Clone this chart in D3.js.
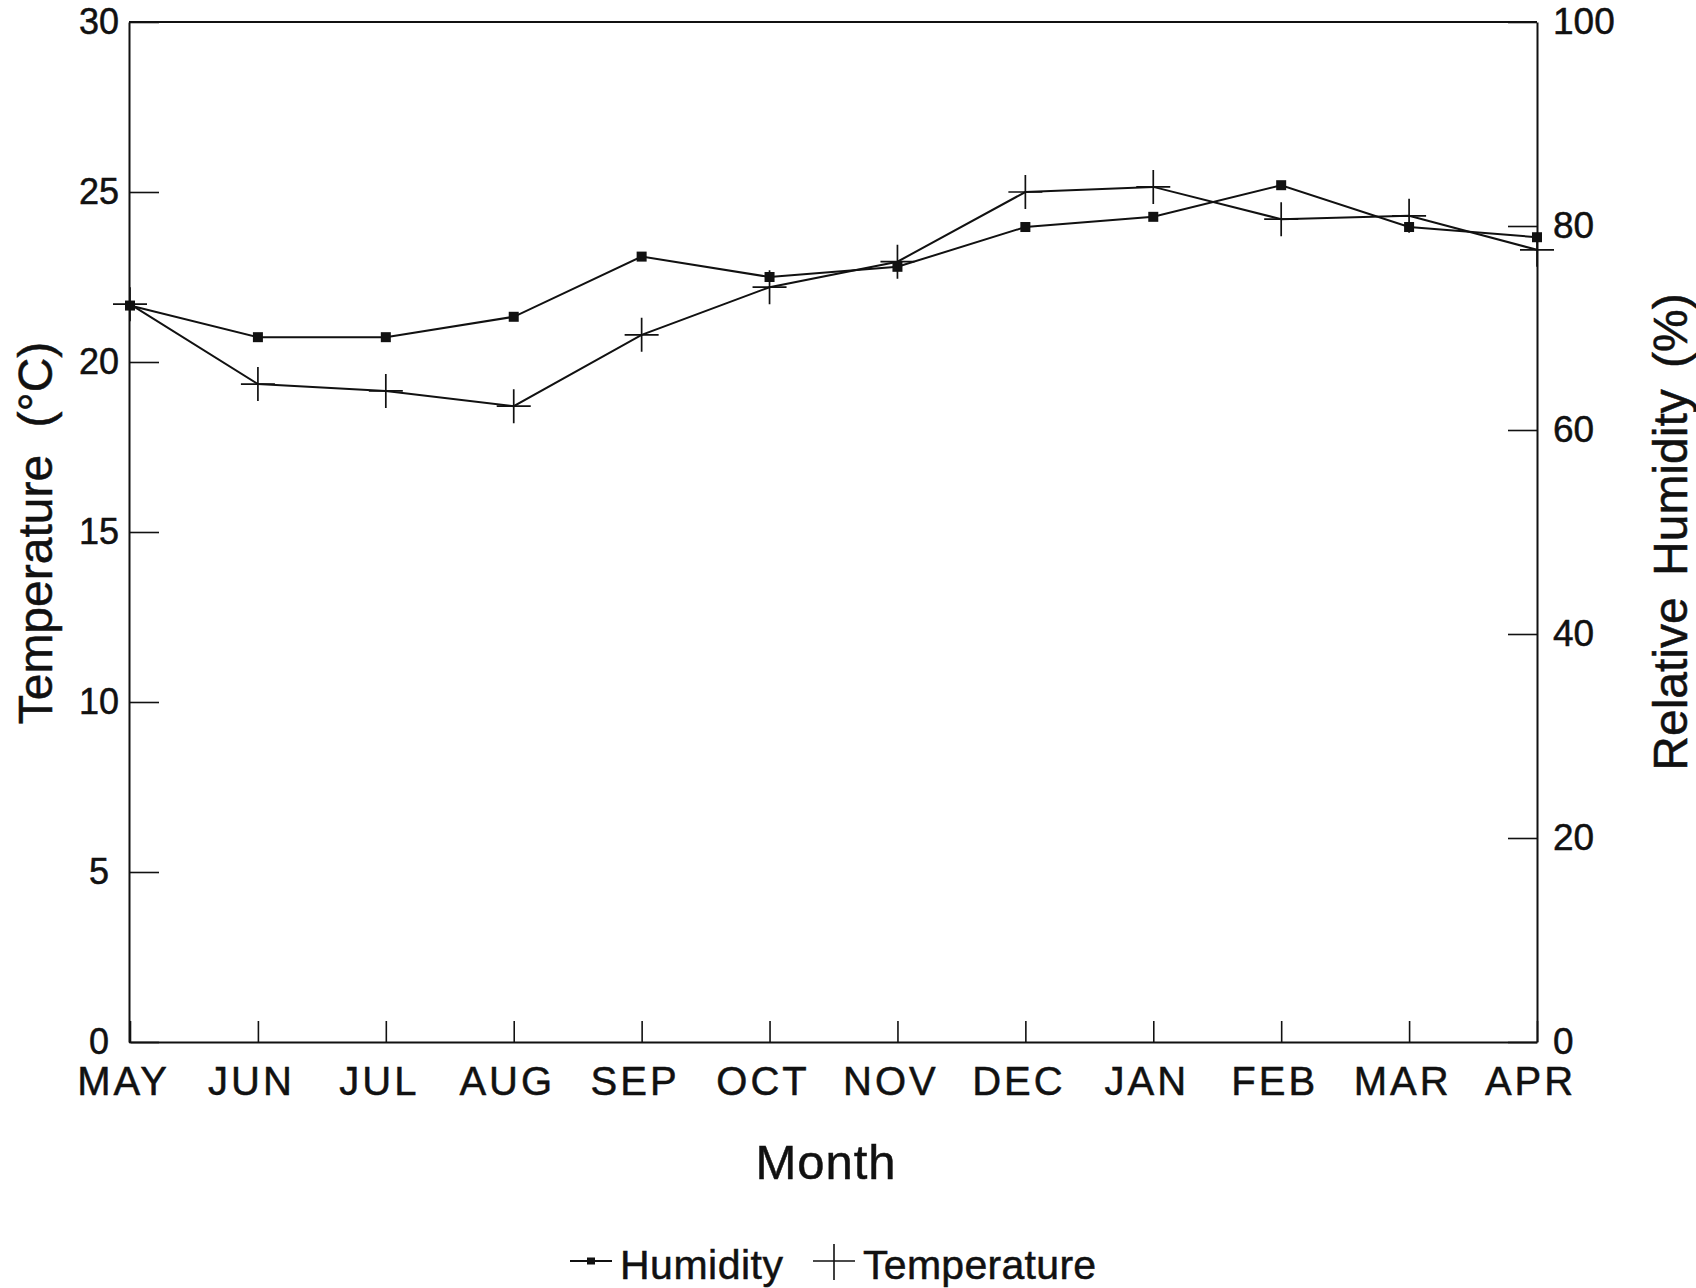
<!DOCTYPE html>
<html>
<head>
<meta charset="utf-8">
<title>Monthly temperature and relative humidity</title>
<script src="https://cdn.jsdelivr.net/npm/d3@7"></script>
<style>
  body { margin: 0; background: #fff; }
  svg { display: block; }
  text { font-family: "Liberation Sans", Arial, Helvetica, sans-serif; fill: #111; stroke: #111; stroke-width: 0.5px; }
</style>
</head>
<body>
<svg id="chart" width="1696" height="1288"></svg>
<script>
// Monthly means, May through April
const months = ["MAY", "JUN", "JUL", "AUG", "SEP", "OCT", "NOV", "DEC", "JAN", "FEB", "MAR", "APR"];
const temperature = [21.7, 19.35, 19.15, 18.7, 20.8, 22.2, 22.95, 25.0, 25.15, 24.2, 24.3, 23.3]; // °C
const humidity = [72.2, 69.1, 69.1, 71.1, 77.0, 75.0, 76.0, 79.9, 80.9, 84.0, 79.9, 78.9];          // %
const tempTicks = [0, 5, 10, 15, 20, 25, 30];
const humidityTicks = [0, 20, 40, 60, 80, 100];
const legendItems = ["Humidity", "Temperature"];

const ink = "#111";
const plot = { left: 129, right: 1537, top: 22, bottom: 1042 };

const svg = d3.select("#chart");

const x = d3.scalePoint().domain(months).range([plot.left + 1, plot.right]);
const yT = d3.scaleLinear().domain([0, 30]).range([plot.bottom, plot.top]);
const yH = d3.scaleLinear().domain([0, 100]).range([plot.bottom, plot.top]);

function styleAxis(g, fontSize) {
  g.attr("font-family", null).attr("font-size", null);
  g.select(".domain").attr("stroke", ink).attr("stroke-width", 2);
  g.selectAll(".tick line").attr("stroke", ink).attr("stroke-width", 1.6);
  g.selectAll(".tick text").style("font-size", fontSize + "px").attr("fill", ink);
}

// Left axis: temperature, ticks pointing into the plot, labels centred
const gLeft = svg.append("g")
  .attr("transform", `translate(${plot.left},0)`)
  .call(d3.axisLeft(yT).tickValues(tempTicks).tickSize(-30).tickSizeOuter(0).tickPadding(0));
styleAxis(gLeft, 36);
gLeft.selectAll(".tick text").attr("text-anchor", "middle").attr("x", -30);

// Right axis: relative humidity
const gRight = svg.append("g")
  .attr("transform", `translate(${plot.right},0)`)
  .call(d3.axisRight(yH).tickValues(humidityTicks).tickSize(-29).tickSizeOuter(0).tickPadding(16));
styleAxis(gRight, 37);

// Bottom axis: months
const gBottom = svg.append("g")
  .attr("transform", `translate(0,${plot.bottom})`)
  .call(d3.axisBottom(x).tickSize(-21).tickSizeOuter(0).tickPadding(25));
styleAxis(gBottom, 40);
gBottom.selectAll(".tick text")
  .style("letter-spacing", "3px")
  .attr("dx", -7);

// Top frame line
svg.append("line")
  .attr("x1", plot.left).attr("x2", plot.right)
  .attr("y1", plot.top).attr("y2", plot.top)
  .attr("stroke", ink).attr("stroke-width", 2);

// Axis titles
svg.append("text")
  .attr("transform", `translate(52,533) rotate(-90)`)
  .attr("text-anchor", "middle")
  .style("font-size", "48px")
  .style("word-spacing", "14px")
  .text("Temperature (°C)");

svg.append("text")
  .attr("transform", `translate(1687,532) rotate(-90)`)
  .attr("text-anchor", "middle")
  .style("font-size", "48px")
  .style("word-spacing", "8px")
  .text("Relative Humidity (%)");

svg.append("text")
  .attr("x", 826).attr("y", 1179)
  .attr("text-anchor", "middle")
  .style("font-size", "49px")
  .style("letter-spacing", "1px")
  .text("Month");

// Series lines
const tempLine = d3.line().x((d, i) => x(months[i])).y(d => yT(d));
const humLine = d3.line().x((d, i) => x(months[i])).y(d => yH(d));

svg.append("path").datum(humidity)
  .attr("d", humLine).attr("fill", "none")
  .attr("stroke", ink).attr("stroke-width", 2);

svg.append("path").datum(temperature)
  .attr("d", tempLine).attr("fill", "none")
  .attr("stroke", ink).attr("stroke-width", 2);

// Humidity markers: filled squares
const sq = 10;
svg.append("g").selectAll("rect").data(humidity).join("rect")
  .attr("x", (d, i) => x(months[i]) - sq / 2)
  .attr("y", d => yH(d) - sq / 2)
  .attr("width", sq).attr("height", sq)
  .attr("fill", ink);

// Temperature markers: plus signs
const arm = 17;
const crosses = svg.append("g").attr("stroke", ink).attr("stroke-width", 1.7);
crosses.selectAll("path").data(temperature).join("path")
  .attr("d", (d, i) => {
    const cx = x(months[i]), cy = yT(d);
    return `M${cx - arm},${cy}H${cx + arm}M${cx},${cy - arm}V${cy + arm}`;
  });

// Legend
const legend = svg.append("g").attr("transform", "translate(570,1261)");
const hum = legend.append("g");
hum.append("line").attr("x1", 0).attr("x2", 42).attr("y1", 0).attr("y2", 0)
  .attr("stroke", ink).attr("stroke-width", 1.8);
hum.append("rect").attr("x", 17).attr("y", -3.5).attr("width", 8).attr("height", 7).attr("fill", ink);
hum.append("text").attr("x", 50).attr("y", 18).style("font-size", "41px").style("letter-spacing", "0.5px").text(legendItems[0]);

const tmp = legend.append("g").attr("transform", "translate(243,0)");
tmp.append("path").attr("d", "M0,0H42M21,-17V19")
  .attr("stroke", ink).attr("stroke-width", 1.6).attr("fill", "none");
tmp.append("text").attr("x", 50).attr("y", 18).style("font-size", "41px").style("letter-spacing", "0.3px").text(legendItems[1]);
</script>
</body>
</html>
